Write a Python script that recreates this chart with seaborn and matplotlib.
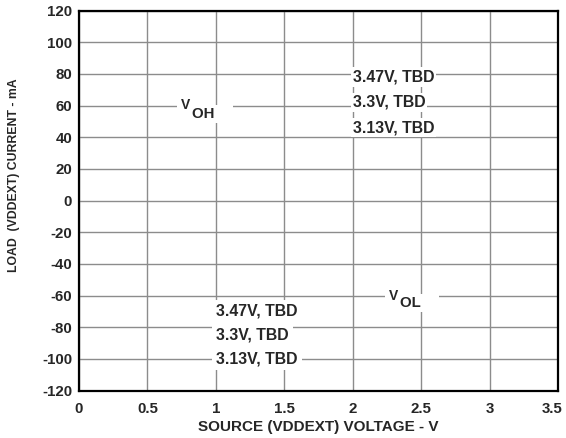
import matplotlib
matplotlib.use('Agg')
import matplotlib.pyplot as plt
import matplotlib.transforms as mtransforms
import seaborn as sns

# axis ranges and ticks
x_ticks = [0, 0.5, 1, 1.5, 2, 2.5, 3, 3.5]
x_tick_labels = ['0', '0.5', '1', '1.5', '2', '2.5', '3', '3.5']
y_ticks = [-120, -100, -80, -60, -40, -20, 0, 20, 40, 60, 80, 100, 120]

# curve labels (no curve data yet, only TBD legends)
supply_labels = ['3.47V, TBD', '3.3V, TBD', '3.13V, TBD']
voh_label_x = 2.0
voh_label_y = [78, 62, 46]
vol_label_x = 1.0
vol_label_y = [-70, -85, -100]

sns.set_style('white')
plt.rcParams['font.family'] = ['Liberation Sans', 'DejaVu Sans']
plt.rcParams['font.weight'] = 'bold'
plt.rcParams['axes.unicode_minus'] = False

fig = plt.figure(figsize=(5.66, 4.38), dpi=100)
ax = fig.add_axes([0.1396, 0.1084, 0.8464, 0.8676])

ax.set_xlim(0, 3.5)
ax.set_ylim(-120, 120)
ax.set_xticks(x_ticks, x_tick_labels)
ax.set_yticks(y_ticks)
ax.grid(True, color='#8c8c8c', linewidth=1.0)
ax.set_axisbelow(True)
ax.tick_params(length=0, labelsize=10.8)
ax.tick_params(axis='x', pad=8)
ax.tick_params(axis='y', pad=5)
for lab in ax.get_xticklabels() + ax.get_yticklabels():
    lab.set_fontweight('bold')
# keep the last x tick label inside the figure
last = ax.get_xticklabels()[-1]
last.set_transform(last.get_transform() + mtransforms.ScaledTranslation(-4 / 72, 0, fig.dpi_scale_trans))
for s in ax.spines.values():
    s.set_color('black')
    s.set_linewidth(1.6)

ax.set_xlabel('SOURCE (VDDEXT) VOLTAGE - V', fontsize=11, fontweight='bold', labelpad=3)
ax.set_ylabel('LOAD  (VDDEXT) CURRENT - mA', fontsize=8.8, fontweight='bold')
ax.yaxis.set_label_coords(-0.123, 0.567)

for lab, y in zip(supply_labels, voh_label_y):
    ax.text(voh_label_x, y, lab, fontsize=11.4, fontweight='bold',
            ha='left', va='center', bbox=dict(facecolor='white', edgecolor='none', pad=1.5))
for lab, y in zip(supply_labels, vol_label_y):
    ax.text(vol_label_x, y, lab, fontsize=11.4, fontweight='bold',
            ha='left', va='center', bbox=dict(facecolor='white', edgecolor='none', pad=3))

# V_OH and V_OL captions
v_box = dict(facecolor='white', edgecolor='none', pad=3)
sub_box = dict(facecolor='white', edgecolor='none', pad=1.5)
ax.text(0.745, 60.5, 'V', fontsize=10, fontweight='bold', ha='left', va='center', bbox=v_box, zorder=3)
ax.text(0.825, 54.5, 'OH    ', fontsize=10.8, fontweight='bold', ha='left', va='center', bbox=sub_box, zorder=4)
ax.text(2.265, -60.5, 'V', fontsize=10, fontweight='bold', ha='left', va='center', bbox=v_box, zorder=3)
ax.text(2.345, -64.5, 'OL    ', fontsize=10.8, fontweight='bold', ha='left', va='center', bbox=sub_box, zorder=4)

fig.savefig('out.png', dpi=100, facecolor='white')
